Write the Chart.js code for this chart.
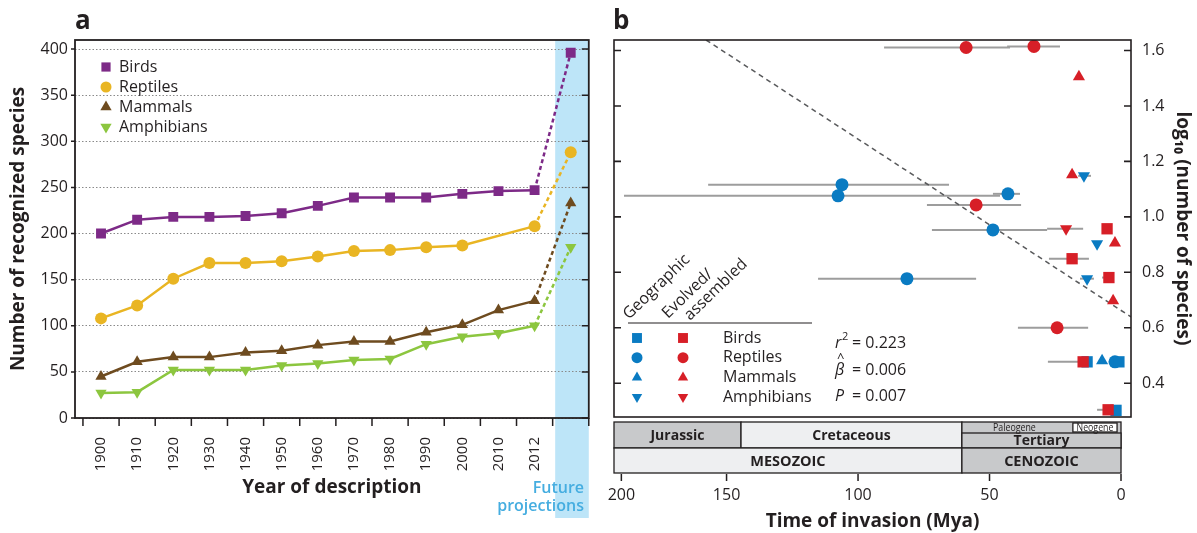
<!DOCTYPE html>
<html>
<head>
<meta charset="utf-8">
<script src="https://cdn.jsdelivr.net/npm/chart.js@4/dist/chart.umd.min.js"></script>
<style>
  body { margin: 0; background: #fff; }
  #wrap { position: relative; width: 1197px; height: 533px; }
  canvas { position: absolute; top: 0; }
  #chartA { left: 0; }
  #chartB { left: 600px; }
</style>
</head>
<body>
<div id="wrap">
  <canvas id="chartA" width="600" height="533"></canvas>
  <canvas id="chartB" width="597" height="533"></canvas>
</div>
<script>
// panel a - recognized species by year of description (last column = future projection)
const years = ['1900','1910','1920','1930','1940','1950','1960','1970','1980','1990','2000','2010','2012',''];
const birds = [200,215,218,218,219,222,230,239,239,239,243,246,247,396];
const reptiles = [108,122,151,168,168,170,175,181,182,185,187,null,208,288];
const mammals = [45,61,66,66,71,73,79,83,83,93,101,117,127,233];
const amphibians = [27,28,52,52,52,57,59,63,64,80,88,92,100,185];
const countTicks = [0,50,100,150,200,250,300,350,400];

// panel b - time of invasion (Mya) vs log10 species; lo/hi = range of the estimate
const geoBirds = [{x:12.9,y:0.477},{x:0.8,y:0.477},{x:1.9,y:0.302}];
const geoReptiles = [
  {x:106.1,y:1.116,lo:65.4,hi:157.0},
  {x:107.6,y:1.076,lo:46.0,hi:189.0},
  {x:43.0,y:1.083,lo:38.4,hi:48.7},
  {x:48.7,y:0.953,lo:28.1,hi:71.9},
  {x:81.4,y:0.777,lo:55.1,hi:115.2},
  {x:2.3,y:0.477}
];
const geoMammals = [{x:7.2,y:0.481}];
const geoAmphibians = [{x:14.1,y:1.148,lo:11.4,hi:16.3},{x:9.1,y:0.903},{x:12.9,y:0.777,lo:10.3,hi:15.6}];
const evoBirds = [
  {x:5.3,y:0.957},
  {x:18.6,y:0.849,lo:12.2,hi:27.4},
  {x:4.6,y:0.781,lo:3.4,hi:7.2},
  {x:14.4,y:0.477,lo:11.0,hi:27.8},
  {x:4.9,y:0.304,lo:4.9,hi:9.1}
];
const evoReptiles = [
  {x:58.9,y:1.611,lo:42.2,hi:90.1},
  {x:33.1,y:1.615,lo:23.2,hi:43.3},
  {x:55.1,y:1.043,lo:38.0,hi:73.8},
  {x:24.3,y:0.600,lo:12.5,hi:39.2}
];
const evoMammals = [{x:16.0,y:1.505},{x:18.6,y:1.152},{x:2.3,y:0.906},{x:3.0,y:0.697}];
const evoAmphibians = [{x:20.9,y:0.957,lo:14.4,hi:28.1}];
const fitLine = [{x:157.8,y:1.638},{x:-3.8,y:0.639}];
const taxa = ['Birds','Reptiles','Mammals','Amphibians'];
const timeTicks = [190,150,100,50,0];
const timeLabels = ['200','150','100','50','0'];
const logTicks = [0.4,0.6,0.8,1.0,1.2,1.4,1.6];
const periods = [{name:'Jurassic',from:192.8,to:144.5},{name:'Cretaceous',from:144.5,to:60.5}];
const epochs = [{name:'Paleogene',from:60.5,to:18.3},{name:'Neogene',from:18.3,to:1.5}];
const eras = [{name:'MESOZOIC',from:192.8,to:60.5},{name:'CENOZOIC',from:60.5,to:0}];
const stats = [['r','0.223'],['β','0.006'],['P','0.007']];

const INK = '#231F20';
const FONT = "'Open Sans', sans-serif";
Chart.defaults.font.family = FONT;
Chart.defaults.color = INK;
const drawPoint = Chart.helpers.drawPoint;

function series(label, values, color, style, rot, r) {
  return {
    label: label,
    data: values.map((v, i) => ({x: i, y: v})),
    borderColor: color, backgroundColor: color,
    borderWidth: 2.5, pointStyle: style, pointRotation: rot,
    pointRadius: r, pointHoverRadius: r, pointBorderWidth: 0,
    spanGaps: true,
    segment: { borderDash: ctx => ctx.p1DataIndex === values.length - 1 ? [4, 3] : undefined }
  };
}

const panelA = {
  id: 'panelA',
  beforeDraw(chart) {
    const {ctx, chartArea: a, scales: {x}} = chart;
    const x0 = x.getPixelForValue(years.length - 1.43);
    ctx.save();
    ctx.fillStyle = '#BDE5F8';
    ctx.fillRect(x0, a.top, a.right - x0, 518 - a.top);
    ctx.restore();
  },
  afterDraw(chart) {
    const {ctx, chartArea: a, scales: {x, y}} = chart;
    ctx.save();
    ctx.strokeStyle = INK;
    ctx.lineWidth = 1.8;
    ctx.strokeRect(a.left, a.top, a.right - a.left, a.bottom - a.top);
    ctx.beginPath();
    for (let i = 0; i <= years.length; i++) {
      const px = x.getPixelForValue(i - 0.5);
      ctx.moveTo(px, a.bottom); ctx.lineTo(px, a.bottom + 8);
    }
    countTicks.forEach(v => {
      const py = y.getPixelForValue(v);
      ctx.moveTo(a.left - 4, py); ctx.lineTo(a.left, py);
      ctx.moveTo(a.right - 7, py); ctx.lineTo(a.right, py);
    });
    ctx.lineWidth = 1.5;
    ctx.stroke();

    // legend
    const sizes = [6.5, 5.5, 6.5, 6.5];
    ctx.textBaseline = 'middle';
    ctx.font = '16px ' + FONT;
    chart.data.datasets.forEach((ds, i) => {
      const ly = a.top + 27 + i * 20;
      ctx.fillStyle = ds.backgroundColor;
      drawPoint(ctx, {pointStyle: ds.pointStyle, rotation: ds.pointRotation, radius: sizes[i], borderWidth: 0}, a.left + 31, ly);
      ctx.fillStyle = INK;
      ctx.fillText(ds.label, a.left + 44, ly);
    });

    ctx.fillStyle = '#45ADE0';
    ctx.textAlign = 'right';
    ctx.font = '600 16px ' + FONT;
    ctx.fillText('Future', 584, 488);
    ctx.fillText('projections', 584, 506);

    ctx.textAlign = 'left';
    ctx.textBaseline = 'alphabetic';
    ctx.fillStyle = INK;
    ctx.font = 'bold 26px ' + FONT;
    ctx.fillText('a', 75, 29);
    ctx.restore();
  }
};

new Chart(document.getElementById('chartA'), {
  type: 'line',
  data: {
    datasets: [
      series('Birds', birds, '#7D2A87', 'rect', 0, 7),
      series('Reptiles', reptiles, '#E9B523', 'circle', 0, 6),
      series('Mammals', mammals, '#6E4B1F', 'triangle', 0, 6.5),
      series('Amphibians', amphibians, '#8CC63F', 'triangle', 180, 6.5)
    ]
  },
  options: {
    responsive: false,
    animation: false,
    layout: { padding: {left: 0, right: 8, top: 40, bottom: 0} },
    plugins: { legend: {display: false}, tooltip: {enabled: false} },
    scales: {
      x: {
        type: 'linear', min: -0.72, max: 13.5,
        afterBuildTicks: s => { s.ticks = years.map((_, i) => ({value: i})); },
        afterFit: s => { s.height = 115; },
        grid: { display: false },
        border: { display: false },
        ticks: { autoSkip: false, minRotation: 90, maxRotation: 90, padding: 11, font: {size: 15}, callback: v => years[v] },
        title: { display: true, text: 'Year of description', font: {size: 19, weight: 'bold'}, padding: {top: 0, bottom: 34} }
      },
      y: {
        min: 0, max: 409.8,
        afterBuildTicks: s => { s.ticks = countTicks.map(v => ({value: v})); },
        afterFit: s => { s.width = 75; },
        grid: { color: '#8a8a8a', lineWidth: 1, drawTicks: false },
        border: { display: false, dash: [1.5, 2] },
        ticks: { padding: 7, font: {size: 16} },
        title: { display: true, text: 'Number of recognized species', font: {size: 19, weight: 'bold'}, padding: {top: 7} }
      }
    }
  },
  plugins: [panelA]
});

// ---------- panel b (canvas starts at page x = 600)
function pts(label, data, color, style, rot, r) {
  return {
    label: label, data: data,
    backgroundColor: color, borderColor: color,
    pointStyle: style, pointRotation: rot,
    pointRadius: r, pointHoverRadius: r, pointBorderWidth: 0
  };
}
const GEO = '#0A7BC2', EVO = '#D71F27';

const panelB = {
  id: 'panelB',
  beforeDatasetsDraw(chart) {
    const {ctx, scales: {x, y}} = chart;
    ctx.save();
    ctx.strokeStyle = '#9D9D9D';
    ctx.lineWidth = 2;
    chart.data.datasets.forEach(ds => {
      if (!ds.errorBars) return;
      ds.data.forEach(p => {
        if (p.lo === undefined) return;
        const py = y.getPixelForValue(p.y);
        ctx.beginPath();
        ctx.moveTo(x.getPixelForValue(p.hi), py);
        ctx.lineTo(x.getPixelForValue(p.lo), py);
        ctx.stroke();
      });
    });
    ctx.restore();
  },
  afterDraw(chart) {
    const {ctx, chartArea: a, scales: {x, y}} = chart;
    ctx.save();
    ctx.strokeStyle = INK;
    ctx.lineWidth = 1.6;
    ctx.strokeRect(a.left, a.top, a.right - a.left, a.bottom - a.top);
    ctx.beginPath();
    logTicks.forEach(v => {
      const py = y.getPixelForValue(v);
      ctx.moveTo(a.left, py); ctx.lineTo(a.left + 7, py);
      ctx.moveTo(a.right - 7, py); ctx.lineTo(a.right, py);
    });
    ctx.stroke();

    // geological time scale
    const r0 = a.bottom + 5, r1 = r0 + 11, r2 = r0 + 26, r3 = r0 + 51;
    const X = v => x.getPixelForValue(v);
    const gray = '#C8C9CB', light = '#EEEFF1';
    ctx.lineWidth = 1.3;
    function cell(x0, x1, y0, y1, fill) {
      ctx.fillStyle = fill;
      ctx.fillRect(x0, y0, x1 - x0, y1 - y0);
      ctx.strokeRect(x0, y0, x1 - x0, y1 - y0);
    }
    function label(t, cx, cy, font, squeeze) {
      ctx.save();
      ctx.fillStyle = INK; ctx.font = font;
      ctx.textAlign = 'center'; ctx.textBaseline = 'middle';
      ctx.translate(cx, cy);
      ctx.scale(squeeze || 1, 1);
      ctx.fillText(t, 0, 0);
      ctx.restore();
    }
    const bold14 = 'bold 14px ' + FONT;
    periods.forEach((p, i) => {
      cell(X(p.from), X(p.to), r0, r2, i === 0 ? gray : light);
      label(p.name, (X(p.from) + X(p.to)) / 2, (r0 + r2) / 2 + 1, bold14);
    });
    cell(X(60.5), X(0), r0, r2, gray);
    cell(X(60.5), X(0), r1, r2, gray);
    label('Tertiary', (X(60.5) + X(0)) / 2, (r1 + r2) / 2 + 1, bold14);
    epochs.forEach((p, i) => {
      if (i === 1) cell(X(p.from), X(p.to), r0 + 1, r1 - 1, '#ffffff');
      label(p.name, (X(p.from) + X(p.to)) / 2 - (i === 0 ? 3 : 0), (r0 + r1) / 2 + 0.5, '11px ' + FONT, 0.8);
    });
    eras.forEach((e, i) => {
      cell(X(e.from), X(e.to), r2, r3, i === 0 ? light : gray);
      label(e.name, (X(e.from) + X(e.to)) / 2, (r2 + r3) / 2 + 1, 'bold 14.5px ' + FONT);
    });
    ctx.beginPath();
    timeTicks.forEach(v => { ctx.moveTo(X(v), r3 + 1); ctx.lineTo(X(v), r3 + 8); });
    ctx.lineWidth = 1.5;
    ctx.stroke();

    // legend
    ctx.textAlign = 'left';
    ctx.textBaseline = 'alphabetic';
    ctx.fillStyle = INK;
    ctx.font = '16px ' + FONT;
    [['Geographic', 29, 320], ['Evolved/', 68, 319], ['assembled', 90, 321]].forEach(h => {
      ctx.save();
      ctx.translate(h[1], h[2]);
      ctx.rotate(-44 * Math.PI / 180);
      ctx.fillText(h[0], 0, 0);
      ctx.restore();
    });
    ctx.beginPath();
    ctx.moveTo(28, 323); ctx.lineTo(212, 323);
    ctx.lineWidth = 1.2; ctx.strokeStyle = INK; ctx.stroke();
    const marks = [['rect', 0, 7], ['circle', 0, 5.5], ['triangle', 0, 6], ['triangle', 180, 6]];
    ctx.textBaseline = 'middle';
    taxa.forEach((t, i) => {
      const ly = 338 + i * 19.7;
      const m = {pointStyle: marks[i][0], rotation: marks[i][1], radius: marks[i][2], borderWidth: 0};
      ctx.fillStyle = GEO; drawPoint(ctx, m, 37, ly);
      ctx.fillStyle = EVO; drawPoint(ctx, m, 83, ly);
      ctx.fillStyle = INK;
      ctx.font = '16px ' + FONT;
      ctx.fillText(t, 123, ly);
    });

    // regression statistics
    const sy = [343, 370, 396];
    stats.forEach((s, i) => {
      ctx.fillStyle = INK;
      ctx.font = 'italic 16px ' + FONT;
      ctx.fillText(s[0], 235, sy[i]);
      if (i === 0) { ctx.font = '11px ' + FONT; ctx.fillText('2', 242, sy[i] - 6); }
      if (i === 1) { ctx.font = '13px ' + FONT; ctx.fillText('^', 237, sy[i] - 12); }
      ctx.font = '16px ' + FONT;
      ctx.fillText('= ' + s[1], 252, sy[i]);
    });

    ctx.textBaseline = 'alphabetic';
    ctx.font = 'bold 26px ' + FONT;
    ctx.fillText('b', 13, 29);
    ctx.restore();
  }
};

const bData = [
  pts('Evolved birds', evoBirds, EVO, 'rect', 0, 8),
  pts('Evolved reptiles', evoReptiles, EVO, 'circle', 0, 6.5),
  pts('Evolved mammals', evoMammals, EVO, 'triangle', 0, 7),
  pts('Evolved amphibians', evoAmphibians, EVO, 'triangle', 180, 7),
  pts('Geographic birds', geoBirds, GEO, 'rect', 0, 8),
  pts('Geographic reptiles', geoReptiles, GEO, 'circle', 0, 6.5),
  pts('Geographic mammals', geoMammals, GEO, 'triangle', 0, 7),
  pts('Geographic amphibians', geoAmphibians, GEO, 'triangle', 180, 7)
];
bData.forEach(ds => { ds.errorBars = true; });
bData.push({
  label: 'fit', data: fitLine, showLine: true, pointRadius: 0,
  borderColor: '#58595B', borderWidth: 1.5, borderDash: [5, 4]
});

new Chart(document.getElementById('chartB'), {
  type: 'scatter',
  data: { datasets: bData },
  options: {
    responsive: false,
    animation: false,
    layout: { padding: {left: 14, right: 0, top: 40, bottom: 0} },
    plugins: { legend: {display: false}, tooltip: {enabled: false} },
    scales: {
      x: {
        type: 'linear', reverse: true, min: -3.8, max: 192.8,
        afterBuildTicks: s => { s.ticks = timeTicks.map(v => ({value: v})); },
        afterFit: s => { s.height = 116; },
        grid: { display: true, drawOnChartArea: false, drawTicks: true, tickLength: 69, tickColor: 'rgba(0,0,0,0)' },
        border: { display: false },
        ticks: { padding: 0, font: {size: 16}, callback: (v, i) => timeLabels[i] },
        title: { display: true, text: 'Time of invasion (Mya)', font: {size: 19, weight: 'bold'}, padding: {top: 0, bottom: 0} }
      },
      y: {
        position: 'right', min: 0.278, max: 1.638,
        afterBuildTicks: s => { s.ticks = logTicks.map(v => ({value: v})); },
        afterFit: s => { s.width = 66; },
        grid: { display: false },
        border: { display: false },
        ticks: { padding: 3, font: {size: 16}, callback: v => v.toFixed(1) },
        title: { display: true, text: 'log₁₀ (number of species)', font: {size: 19, weight: 'bold'}, padding: {top: 3} }
      }
    }
  },
  plugins: [panelB]
});
</script>
</body>
</html>
